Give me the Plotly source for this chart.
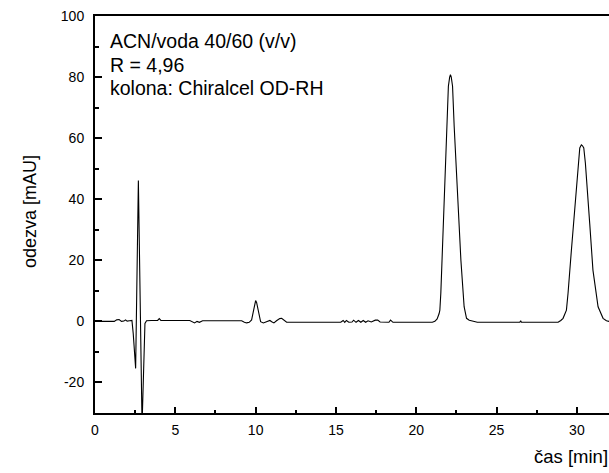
import plotly.graph_objects as go

# Retention time [min]
time_min = [
    0.0, 0.4, 1.2, 1.35, 1.5, 1.65, 1.8, 1.9, 2.0, 2.15, 2.3, 2.38, 2.45, 2.53,
    2.70, 2.93, 3.11, 3.21, 3.5, 3.9, 4.0, 4.1, 5.9, 6.05, 6.2, 6.35, 6.5, 6.7,
    9.13, 9.3, 9.44, 9.6, 9.75, 9.85, 9.95, 10.0, 10.06, 10.15, 10.25, 10.31,
    10.48, 10.7, 10.89, 11.0, 11.14, 11.3, 11.5, 11.62, 11.75, 11.93, 12.5,
    15.3, 15.45, 15.55, 15.65, 15.8, 16.0, 16.1, 16.25, 16.4, 16.55, 16.7,
    16.85, 17.0, 17.2, 17.45, 17.6, 17.75, 18.3, 18.4, 18.55, 18.7,
    21.0, 21.16, 21.3, 21.42, 21.47, 21.53, 21.6, 21.74, 21.88, 22.0, 22.08,
    22.13, 22.18, 22.26, 22.36, 22.57, 22.78, 22.98, 23.13, 23.3, 23.54, 23.8,
    26.45, 26.5, 26.55, 28.83, 29.0, 29.14, 29.35, 29.45, 29.66, 29.87, 30.07,
    30.18, 30.28, 30.35, 30.43, 30.53, 30.8, 31.0, 31.32, 31.63, 31.84, 32.0,
]

# Detector response [mAU]
response_mau = [
    0.0, 0.0, 0.0, 0.5, 0.6, 0.0, 0.1, 0.5, 0.1, 0.2, 0.3, -4.0, -9.4, -15.4,
    46.1, -34.0, -0.7, 0.2, 0.3, 0.3, 0.9, 0.3, 0.3, -0.2, -0.5, 0.0, -0.3, 0.2,
    0.2, -0.3, -0.5, -0.3, 0.5, 3.0, 6.3, 6.8, 6.2, 3.5, 0.8, -0.1,
    -0.5, -0.2, 0.3, -0.1, -0.5, 0.2, 0.9, 1.0, 0.5, -0.3, -0.3,
    -0.3, 0.3, -0.3, 0.3, -0.3, -0.2, 0.4, -0.3, 0.3, -0.3, 0.3,
    -0.3, 0.2, -0.2, 0.4, 0.4, -0.2, -0.3, 0.4, -0.3, -0.3,
    -0.3, 0.0, 0.8, 2.5, 3.7, 9.3, 20.0, 42.0, 64.0, 77.0, 80.0,
    80.8, 80.0, 77.0, 64.0, 42.0, 20.0, 4.8, 1.0, 0.4, 0.0, -0.3,
    -0.3, 0.2, -0.3, -0.3, 0.3, 1.0, 3.7, 9.2, 23.4, 37.6, 50.7,
    56.8, 57.8, 57.5, 56.8, 51.8, 32.0, 16.8, 4.8, 1.0, 0.2, 0.0,
]

x_tick_vals = [0, 5, 10, 15, 20, 25, 30]
x_tick_text = ["0", "5", "10", "15", "20", "25", "30"]
y_tick_vals = [-20, 0, 20, 40, 60, 80, 100]
y_tick_text = ["-20", "0", "20", "40", "60", "80", "100"]
info_lines = ["ACN/voda 40/60 (v/v)", "R = 4,96", "kolona: Chiralcel OD-RH"]

FONT = "Liberation Sans, Arial, sans-serif"
L, R, T, B = 95, 0, 16, 60
W, H = 609, 473
pw, ph = W - L - R, H - T - B

def px_to_paper_x(px):
    return (px - L) / pw

def px_to_paper_y(py):
    return (H - B - py) / ph

fig = go.Figure()
fig.add_trace(go.Scatter(
    x=time_min, y=response_mau, mode="lines",
    line=dict(color="black", width=1.1), showlegend=False, hoverinfo="skip",
))

axis_common = dict(
    showgrid=False, zeroline=False, showline=True, linecolor="black", linewidth=2,
    ticks="inside", tickcolor="black", tickwidth=1.5,
    tickfont=dict(family=FONT, size=14, color="black"),
)

fig.update_xaxes(
    range=[0, 32], tickvals=x_tick_vals, ticktext=x_tick_text, ticklen=6, mirror=True,
    ticklabelstandoff=3,
    minor=dict(dtick=2.5, tick0=0, ticks="inside", ticklen=3, tickcolor="black", tickwidth=1.5),
    **axis_common,
)
fig.update_yaxes(
    range=[-30, 100], tickvals=y_tick_vals, ticktext=y_tick_text, ticklen=7,
    ticklabelstandoff=6,
    minor=dict(dtick=10, tick0=0, ticks="inside", ticklen=4, tickcolor="black", tickwidth=1.5),
    **axis_common,
)

ann = []
for txt, yc in zip(info_lines, [41, 65, 88]):
    ann.append(dict(
        text=txt, xref="paper", yref="paper", x=px_to_paper_x(108), y=px_to_paper_y(yc),
        xanchor="left", yanchor="middle", showarrow=False,
        font=dict(family=FONT, size=19.5, color="black"),
    ))
ann.append(dict(
    text="odezva [mAU]", xref="paper", yref="paper", x=px_to_paper_x(30), y=px_to_paper_y(212),
    xanchor="center", yanchor="middle", textangle=-90, showarrow=False,
    font=dict(family=FONT, size=18, color="black"),
))
ann.append(dict(
    text="čas [min]", xref="paper", yref="paper", x=px_to_paper_x(610), y=px_to_paper_y(456),
    xanchor="right", yanchor="middle", showarrow=False,
    font=dict(family=FONT, size=18.5, color="black"),
))

fig.update_layout(
    width=W, height=H, margin=dict(l=L, r=R, t=T, b=B),
    paper_bgcolor="white", plot_bgcolor="white",
    annotations=ann,
)

fig.write_html("out.html")
